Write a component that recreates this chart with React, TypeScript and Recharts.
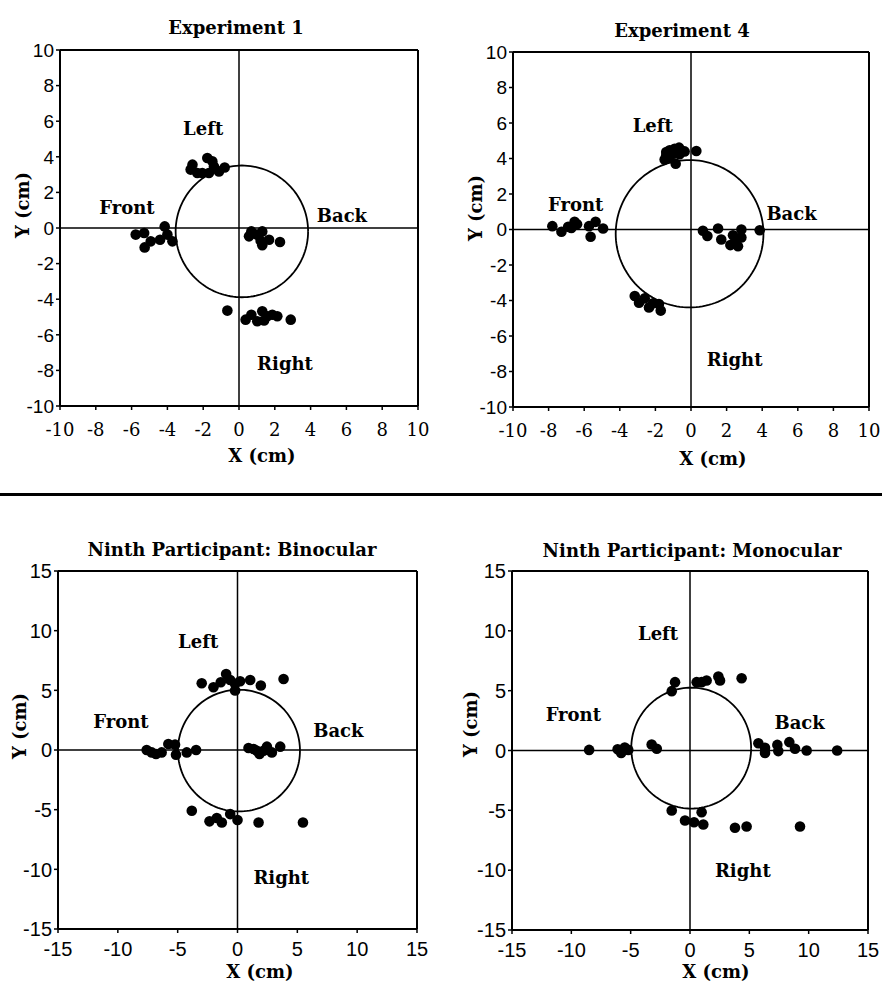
import React from "react";
import { ScatterChart, Scatter, XAxis, YAxis, ReferenceLine, ReferenceDot, Label } from "recharts";

type Pt = [number, number];

// tick values
const ticks10 = [-10, -8, -6, -4, -2, 0, 2, 4, 6, 8, 10];
const ticks15 = [-15, -10, -5, 0, 5, 10, 15];

// Experiment 1
const exp1Points: Pt[] = [
  [-2.6, 3.56], [-2.7, 3.28], [-2.33, 3.09], [-2.05, 3.09], [-1.77, 3.93], [-1.49, 3.75],
  [-1.4, 3.46], [-1.68, 3.09], [-1.12, 3.18], [-0.8, 3.4],
  [-5.77, -0.37], [-5.3, -0.28], [-5.27, -1.09], [-4.93, -0.75], [-4.41, -0.66], [-4.15, 0.09],
  [-4.0, -0.37], [-3.72, -0.75],
  [0.56, -0.47], [0.69, -0.19], [0.99, -0.37], [1.3, -0.19], [1.21, -0.71], [1.3, -0.97],
  [1.68, -0.66], [2.29, -0.79],
  [-0.65, -4.64], [0.37, -5.15], [0.69, -4.87], [1.02, -5.24], [1.3, -4.68], [1.58, -4.96],
  [1.4, -5.2], [2.14, -4.96], [2.89, -5.15], [1.86, -4.87],
];
const exp1Circle = { cx: 0.16, cy: -0.19, r: 3.7 };
const exp1Labels = [
  { text: "Left", x: -2.0, y: 5.56 },
  { text: "Front", x: -6.26, y: 1.12 },
  { text: "Back", x: 5.75, y: 0.67 },
  { text: "Right", x: 2.57, y: -7.64 },
];

// Experiment 4
const exp4Points: Pt[] = [
  [-1.39, 4.37], [-1.2, 4.46], [-0.92, 4.55], [-0.67, 4.61], [-0.36, 4.4], [0.3, 4.42],
  [-1.48, 3.94], [-1.2, 4.09], [-0.86, 3.71], [-1.39, 4.18], [-1.01, 4.27], [-0.64, 4.24],
  [-7.79, 0.19], [-7.28, -0.13], [-6.72, 0.09], [-6.54, 0.43], [-6.4, 0.3], [-5.73, 0.19],
  [-5.64, -0.41], [-5.36, 0.43], [-4.94, 0.06], [-6.9, 0.15],
  [0.67, -0.07], [0.92, -0.37], [1.52, 0.06], [1.7, -0.56], [2.21, -0.88], [2.36, -0.32],
  [2.64, -0.94], [2.83, 0.0], [2.83, -0.45], [3.86, -0.04], [2.51, -0.6],
  [-3.16, -3.75], [-2.92, -4.12], [-2.6, -3.88], [-2.36, -4.39], [-2.13, -4.16], [-1.8, -4.2],
  [-1.7, -4.57],
];
const exp4Circle = { cx: -0.08, cy: -0.24, r: 4.15 };
const exp4Labels = [
  { text: "Left", x: -2.15, y: 5.86 },
  { text: "Front", x: -6.48, y: 1.42 },
  { text: "Back", x: 5.65, y: 0.92 },
  { text: "Right", x: 2.45, y: -7.34 },
];

// Ninth participant: binocular
const binoPoints: Pt[] = [
  [-2.99, 5.59], [-2.01, 5.26], [-1.4, 5.68], [-0.95, 6.37], [-0.61, 5.87], [-0.2, 5.54],
  [-0.2, 4.98], [0.22, 5.76], [1.06, 5.87], [1.95, 5.4], [3.85, 5.95],
  [-7.59, 0], [-7.17, -0.2], [-6.81, -0.34], [-6.34, -0.2], [-5.78, 0.5], [-5.22, 0.45],
  [-5.14, -0.39], [-4.24, -0.2], [-3.46, 0],
  [0.92, 0.17], [1.34, 0.08], [1.84, -0.34], [2.46, 0.28], [2.87, -0.2], [3.57, 0.28],
  [2.18, -0.06], [1.62, -0.06],
  [-3.82, -5.09], [-2.34, -5.98], [-1.73, -5.7], [-1.31, -6.07], [-0.61, -5.37], [0, -5.87],
  [1.76, -6.07], [5.47, -6.07],
];
const binoCircle = { cx: 0.12, cy: -0.05, r: 5.1 };
const binoLabels = [
  { text: "Left", x: -3.29, y: 9.07 },
  { text: "Front", x: -9.74, y: 2.37 },
  { text: "Back", x: 8.43, y: 1.62 },
  { text: "Right", x: 3.66, y: -10.7 },
];

// Ninth participant: monocular
const monoPoints: Pt[] = [
  [-1.26, 5.71], [-1.54, 4.96], [0.56, 5.71], [0.98, 5.71], [1.4, 5.85], [2.39, 6.18],
  [2.53, 5.85], [4.35, 6.04],
  [-8.5, 0.05], [-6.1, 0.1], [-5.8, -0.2], [-5.5, 0.25], [-5.2, 0.05], [-3.23, 0.5], [-2.8, 0.14],
  [5.76, 0.61], [6.32, 0.22], [6.32, -0.2], [7.36, 0.47], [7.44, -0.05], [8.37, 0.7],
  [8.85, 0.14], [9.83, 0], [12.4, 0],
  [-1.54, -5.01], [-0.42, -5.85], [0.34, -5.99], [0.98, -5.15], [1.12, -6.18], [3.79, -6.46],
  [4.77, -6.35], [9.27, -6.35],
];
const monoCircle = { cx: 0.1, cy: 0.2, r: 5.05 };
const monoLabels = [
  { text: "Left", x: -2.69, y: 9.75 },
  { text: "Front", x: -9.83, y: 3.0 },
  { text: "Back", x: 9.24, y: 2.35 },
  { text: "Right", x: 4.45, y: -10.0 },
];

const SERIF = "'DejaVu Serif', serif";
const SANS = "'Liberation Sans', Arial, sans-serif";

type Circ = { cx: number; cy: number; r: number };

const circlePoints = (c: Circ) =>
  Array.from({ length: 145 }, (_, i) => {
    const a = (i / 144) * 2 * Math.PI;
    return { x: c.cx + c.r * Math.cos(a), y: c.cy + c.r * Math.sin(a) };
  });

const Dot = (p: any) => <circle cx={p.cx} cy={p.cy} r={5.3} fill="#000" />;
const NoDot = () => <g />;

// custom tick text so font family / size are applied for sure
const xTick = (font: string, size: number) => (p: any) => (
  <text x={p.x} y={p.y} dy="0.71em" textAnchor="middle" fontFamily={font} fontSize={size} fill="#000">
    {p.payload.value}
  </text>
);
const yTick = (font: string, size: number) => (p: any) => (
  <text x={p.x} y={p.y} dy="0.36em" textAnchor="end" fontFamily={font} fontSize={size} fill="#000">
    {p.payload.value}
  </text>
);

type PanelProps = {
  box: { left: number; top: number; width: number; height: number };
  plot: { x0: number; x1: number; y0: number; y1: number };
  lim: number;
  ticks: number[];
  points: Pt[];
  circle: Circ;
  labels: { text: string; x: number; y: number }[];
  xFont: string;
  xSize: number;
  xMargin: number;
  ySize: number;
};

function Panel({ box, plot, lim, ticks, points, circle, labels, xFont, xSize, xMargin, ySize }: PanelProps) {
  const yW = 50, rW = 6, tH = 6, bH = 40;
  const margin = {
    left: plot.x0 - box.left - yW,
    right: box.left + box.width - plot.x1 - rW,
    top: plot.y0 - box.top - tH,
    bottom: box.top + box.height - plot.y1 - bH,
  };
  const domain = [-lim, lim];
  const axisLine = { stroke: "#000", strokeWidth: 2 };
  const tickLine = { stroke: "#000", strokeWidth: 1.5 };
  const data = points.map(([x, y]) => ({ x, y }));
  return (
    <div style={{ position: "absolute", left: box.left, top: box.top }}>
      <ScatterChart width={box.width} height={box.height} margin={margin}>
        <XAxis
          type="number"
          dataKey="x"
          domain={domain}
          ticks={ticks}
          interval={0}
          allowDataOverflow
          height={bH}
          tickSize={4}
          tickMargin={xMargin}
          axisLine={axisLine}
          tickLine={tickLine}
          tick={xTick(xFont, xSize)}
        />
        <XAxis
          xAxisId="top"
          orientation="top"
          type="number"
          domain={domain}
          ticks={ticks}
          interval={0}
          allowDataOverflow
          height={tH}
          tickSize={4}
          tick={false}
          axisLine={axisLine}
          tickLine={tickLine}
        />
        <YAxis
          type="number"
          dataKey="y"
          domain={domain}
          ticks={ticks}
          interval={0}
          allowDataOverflow
          width={yW}
          tickSize={4}
          tickMargin={2}
          axisLine={axisLine}
          tickLine={tickLine}
          tick={yTick(SANS, ySize)}
        />
        <YAxis
          yAxisId="right"
          orientation="right"
          type="number"
          domain={domain}
          ticks={ticks}
          interval={0}
          allowDataOverflow
          width={rW}
          tickSize={4}
          tick={false}
          axisLine={axisLine}
          tickLine={tickLine}
        />
        <ReferenceLine x={0} stroke="#000" strokeWidth={1.5} />
        <ReferenceLine y={0} stroke="#000" strokeWidth={1.5} />
        <Scatter
          data={circlePoints(circle)}
          line={{ stroke: "#000", strokeWidth: 1.8 }}
          shape={NoDot}
          isAnimationActive={false}
        />
        <Scatter data={data} shape={Dot} isAnimationActive={false} />
        {labels.map((l) => (
          <ReferenceDot
            key={l.text}
            x={l.x}
            y={l.y}
            r={0}
            fill="none"
            stroke="none"
            label={
              <Label
                value={l.text}
                position="center"
                fill="#000"
                fontFamily={SERIF}
                fontWeight="bold"
                fontSize={18}
              />
            }
          />
        ))}
      </ScatterChart>
    </div>
  );
}

const titleStyle = { fontFamily: SERIF, fontWeight: "bold" as const, fontSize: 18, fill: "#000" };

export default function App() {
  return (
    <div style={{ position: "absolute", left: 0, top: 0, width: 882, height: 985, background: "#fff", overflow: "hidden" }}>
      <Panel
        box={{ left: 0, top: 0, width: 441, height: 470 }}
        plot={{ x0: 60, x1: 418, y0: 50, y1: 406 }}
        lim={10}
        ticks={ticks10}
        points={exp1Points}
        circle={exp1Circle}
        labels={exp1Labels}
        xFont={SERIF}
        xSize={18}
        xMargin={13}
        ySize={19}
      />
      <Panel
        box={{ left: 441, top: 0, width: 441, height: 470 }}
        plot={{ x0: 513, x1: 869, y0: 52, y1: 407 }}
        lim={10}
        ticks={ticks10}
        points={exp4Points}
        circle={exp4Circle}
        labels={exp4Labels}
        xFont={SERIF}
        xSize={18}
        xMargin={13}
        ySize={19}
      />
      <Panel
        box={{ left: 0, top: 500, width: 441, height: 485 }}
        plot={{ x0: 58, x1: 417, y0: 571, y1: 929 }}
        lim={15}
        ticks={ticks15}
        points={binoPoints}
        circle={binoCircle}
        labels={binoLabels}
        xFont={SANS}
        xSize={20}
        xMargin={9}
        ySize={20}
      />
      <Panel
        box={{ left: 441, top: 500, width: 441, height: 485 }}
        plot={{ x0: 512, x1: 868, y0: 571, y1: 930 }}
        lim={15}
        ticks={ticks15}
        points={monoPoints}
        circle={monoCircle}
        labels={monoLabels}
        xFont={SANS}
        xSize={20}
        xMargin={9}
        ySize={20}
      />
      <div style={{ position: "absolute", left: 0, top: 493, width: 882, height: 3, background: "#000" }} />
      <svg width={882} height={985} style={{ position: "absolute", left: 0, top: 0, pointerEvents: "none" }}>
        <text x={236} y={34} textAnchor="middle" {...titleStyle}>Experiment 1</text>
        <text x={682} y={37} textAnchor="middle" {...titleStyle}>Experiment 4</text>
        <text x={232} y={556} textAnchor="middle" {...titleStyle}>Ninth Participant: Binocular</text>
        <text x={692} y={557} textAnchor="middle" {...titleStyle}>Ninth Participant: Monocular</text>
        <text x={262} y={462} textAnchor="middle" {...titleStyle}>X (cm)</text>
        <text x={713} y={465} textAnchor="middle" {...titleStyle}>X (cm)</text>
        <text x={260} y={978} textAnchor="middle" {...titleStyle}>X (cm)</text>
        <text x={716} y={978} textAnchor="middle" {...titleStyle}>X (cm)</text>
        <text x={22} y={205} textAnchor="middle" dominantBaseline="central" transform="rotate(-90 22 205)" {...titleStyle}>Y (cm)</text>
        <text x={475} y={208} textAnchor="middle" dominantBaseline="central" transform="rotate(-90 475 208)" {...titleStyle}>Y (cm)</text>
        <text x={19} y={726} textAnchor="middle" dominantBaseline="central" transform="rotate(-90 19 726)" {...titleStyle}>Y (cm)</text>
        <text x={470} y={724} textAnchor="middle" dominantBaseline="central" transform="rotate(-90 470 724)" {...titleStyle}>Y (cm)</text>
      </svg>
    </div>
  );
}
